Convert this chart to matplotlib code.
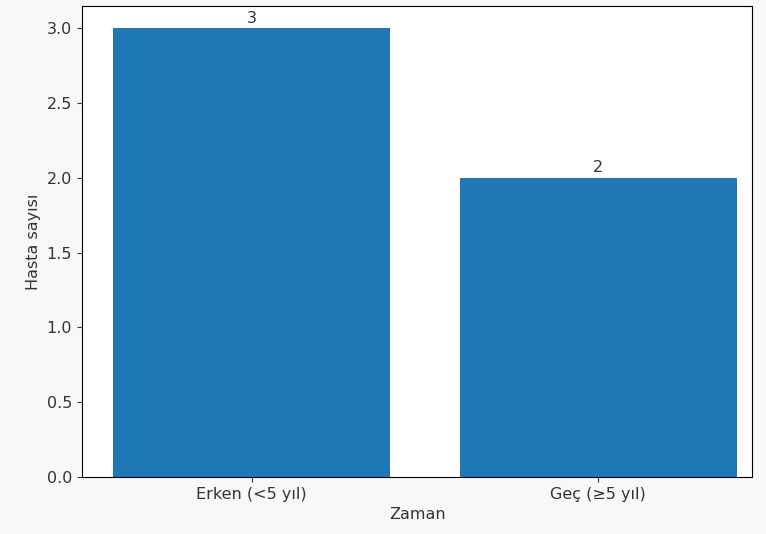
import matplotlib
matplotlib.use("Agg")
import matplotlib.pyplot as plt

categories = ["Erken (<5 yıl)", "Geç (≥5 yıl)"]
counts = [3, 2]

plt.rcParams["font.size"] = 11.5
plt.rcParams["text.color"] = "#333333"
plt.rcParams["axes.labelcolor"] = "#333333"
plt.rcParams["xtick.color"] = "#333333"
plt.rcParams["ytick.color"] = "#333333"

fig = plt.figure(figsize=(7.66, 5.34), dpi=100, facecolor="#f7f8fa")
ax = fig.add_axes([0.107, 0.107, 0.875, 0.882])
bars = ax.bar(categories, counts, color="#1f77b4", width=0.8)
ax.bar_label(bars, labels=[str(c) for c in counts], padding=2)
ax.set_xlim(-0.49, 1.445)
ax.set_xlabel("Zaman")
ax.set_ylabel("Hasta sayısı")
fig.savefig("out.png", dpi=100, facecolor=fig.get_facecolor())
